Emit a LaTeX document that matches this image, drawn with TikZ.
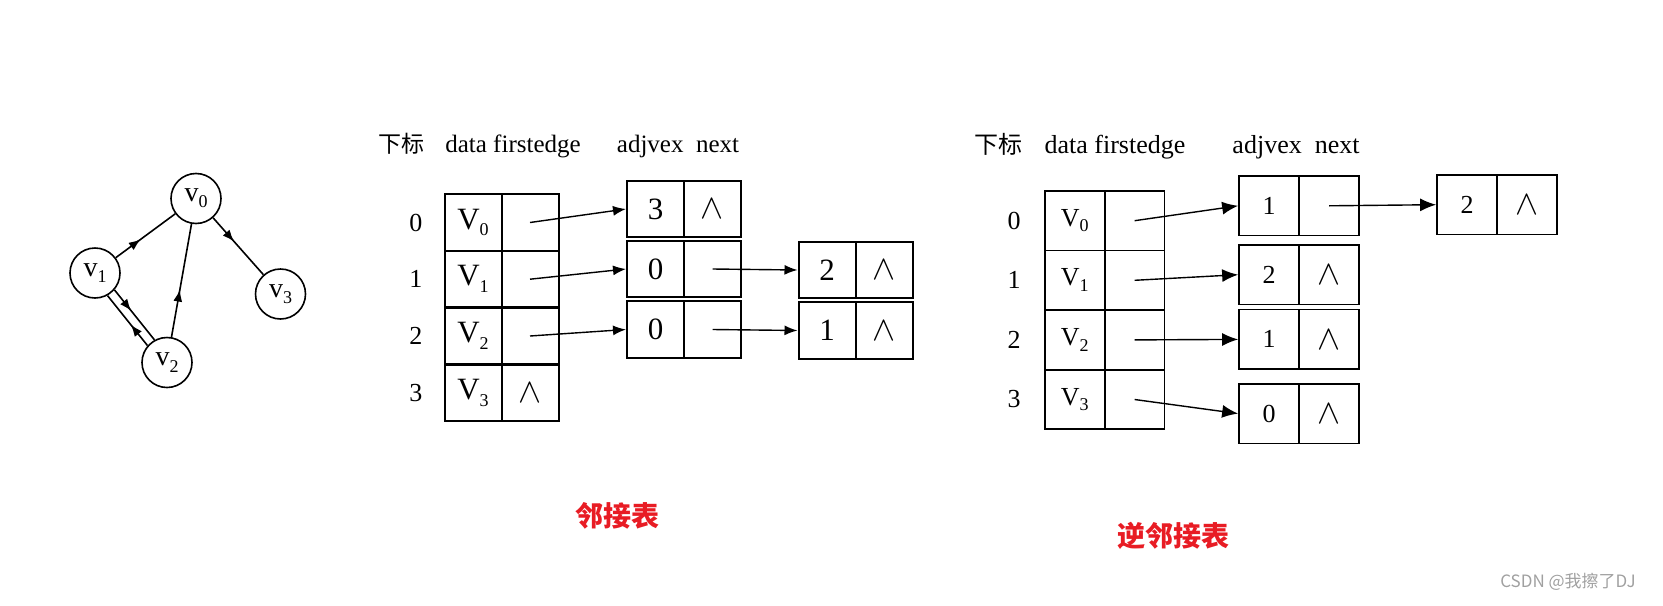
\documentclass[tikz,border=0pt]{standalone}
\usepackage{fontspec}
\setmainfont{Liberation Serif}
\newfontfamily\cjk{Noto Sans CJK SC}
\usetikzlibrary{arrows.meta,decorations.markings}
\definecolor{titlered}{RGB}{232,28,36}
\definecolor{markgray}{RGB}{160,160,160}
\newcommand{\vsub}[2]{#1\raisebox{-0.22em}{\fontsize{9}{9}\selectfont #2}}
\newcommand{\nilmark}{{\fontsize{18}{18}\selectfont$\wedge$}}
\tikzset{
  vert/.style={circle, draw, line width=0.8pt, minimum size=25pt, inner sep=0pt,
    font=\fontsize{14}{14}\selectfont},
  midarrow/.style={line width=0.8pt, postaction={decorate},
    decoration={markings, mark=at position 0.42 with {\arrow{Latex[length=6pt,width=4.5pt]}}}},
  lcell/.style={draw, line width=1pt, minimum width=28.5pt, minimum height=28.2pt,
    inner sep=0pt, font=\fontsize{15.5}{15.5}\selectfont},
  rcell/.style={draw, line width=0.85pt, minimum width=30pt, minimum height=29.8pt,
    inner sep=0pt, font=\fontsize{13}{13}\selectfont},
  lptr/.style={-{Latex[length=6.5pt,width=5pt]}, line width=0.7pt},
  rptr/.style={-{Latex[length=8pt,width=6.5pt]}, line width=0.7pt},
  lhead/.style={anchor=base, font=\fontsize{12.5}{12.5}\selectfont},
  rhead/.style={anchor=base, font=\fontsize{13}{13}\selectfont},
  idx/.style={font=\fontsize{13}{13}\selectfont},
  title/.style={font=\cjk\bfseries\fontsize{14}{14}\selectfont, text=titlered}
}
\begin{document}
\begin{tikzpicture}[x=0.5pt, y=-0.5pt]
  \useasboundingbox (0,0) rectangle (1663,605);
  %graph
  \node[vert] (v0) at (196,198.5) {\vsub{v}{0}};
  \node[vert] (v1) at (95,273) {\vsub{v}{1}};
  \node[vert] (v2) at (167,362.5) {\vsub{v}{2}};
  \node[vert] (v3) at (280.5,294) {\vsub{v}{3}};
  \draw[midarrow] (v1) -- (v0);
  \draw[midarrow] (v0) -- (v3);
  \draw[midarrow] (v2) -- (v0);
  \draw[midarrow] (v1.-41) -- (v2.119);
  \draw[midarrow] (v2.139) -- (v1.-61);

  %adjacency list
  \node[lhead] (lh0) at (401.5,152) {\cjk\fontsize{11.5}{11.5}\selectfont 下标};
  \node[lhead] (lh1) at (513,152) {data firstedge};
  \node[lhead] (lh2) at (678,152) {adjvex\enspace next};
  \node[idx] (li0) at (415.8,222.5) {0};
  \node[idx] (li1) at (415.8,279.2) {1};
  \node[idx] (li2) at (415.8,336) {2};
  \node[idx] (li3) at (415.8,392.7) {3};
  \node[lcell] (lv0) at (473,222.5) {\vsub{V}{0}};
  \node[lcell] (lf0) at (530,222.5) {};
  \node[lcell] (lv1) at (473,279.2) {\vsub{V}{1}};
  \node[lcell] (lf1) at (530,279.2) {};
  \node[lcell] (lv2) at (473,336) {\vsub{V}{2}};
  \node[lcell] (lf2) at (530,336) {};
  \node[lcell] (lv3) at (473,392.7) {\vsub{V}{3}};
  \node[lcell] (lf3) at (530,392.7) {\nilmark};
  \node[lcell] (la01) at (655.5,209) {3};
  \node[lcell] (ln01) at (712.5,209) {\nilmark};
  \node[lcell] (la11) at (655.5,269) {0};
  \node[lcell] (ln11) at (712.5,269) {};
  \node[lcell] (la12) at (827,270) {2};
  \node[lcell] (ln12) at (884.5,270) {\nilmark};
  \node[lcell] (la21) at (655.5,329.5) {0};
  \node[lcell] (ln21) at (712.5,329.5) {};
  \node[lcell] (la22) at (827,330.5) {1};
  \node[lcell] (ln22) at (884.5,330.5) {\nilmark};
  \draw[lptr] (lf0.center) -- (la01.west);
  \draw[lptr] (lf1.center) -- (la11.west);
  \draw[lptr] (lf2.center) -- (la21.west);
  \draw[lptr] (ln11.center) -- (la12.west);
  \draw[lptr] (ln21.center) -- (la22.west);
  \node[title] (ltitle) at (617.5,515.5) {邻接表};

  %inverse adjacency list
  \node[rhead] (rh0) at (998.6,153) {\cjk\fontsize{12}{12}\selectfont 下标};
  \node[rhead] (rh1) at (1115,153) {data firstedge};
  \node[rhead] (rh2) at (1296,153) {adjvex\enspace next};
  \node[idx] (ri0) at (1014,220.7) {0};
  \node[idx] (ri1) at (1014,280.3) {1};
  \node[idx] (ri2) at (1014,339.9) {2};
  \node[idx] (ri3) at (1014,399.5) {3};
  \node[rcell] (rv0) at (1074.7,220.7) {\vsub{V}{0}};
  \node[rcell] (rf0) at (1134.6,220.7) {};
  \node[rcell] (rv1) at (1074.7,280.3) {\vsub{V}{1}};
  \node[rcell] (rf1) at (1134.6,280.3) {};
  \node[rcell] (rv2) at (1074.7,339.9) {\vsub{V}{2}};
  \node[rcell] (rf2) at (1134.6,339.9) {};
  \node[rcell] (rv3) at (1074.7,399.5) {\vsub{V}{3}};
  \node[rcell] (rf3) at (1134.6,399.5) {};
  \node[rcell] (ra01) at (1269,205.8) {1};
  \node[rcell] (rn01) at (1329,205.8) {};
  \node[rcell] (ra02) at (1467,204.7) {2};
  \node[rcell] (rn02) at (1527,204.7) {\nilmark};
  \node[rcell] (ra11) at (1269,274.7) {2};
  \node[rcell] (rn11) at (1329,274.7) {\nilmark};
  \node[rcell] (ra21) at (1269,339.4) {1};
  \node[rcell] (rn21) at (1329,339.4) {\nilmark};
  \node[rcell] (ra31) at (1269,413.6) {0};
  \node[rcell] (rn31) at (1329,413.6) {\nilmark};
  \draw[rptr] (rf0.center) -- (ra01.west);
  \draw[rptr] (rf1.center) -- (ra11.west);
  \draw[rptr] (rf2.center) -- (ra21.west);
  \draw[rptr] (rf3.center) -- (ra31.west);
  \draw[rptr] (rn01.center) -- (ra02.west);
  \node[title] (rtitle) at (1173,535.5) {逆邻接表};

  \node[font=\cjk\fontsize{8.5}{8.5}\selectfont, text=markgray] (mark) at (1568,582) {CSDN @我擦了DJ};
\end{tikzpicture}
\end{document}
